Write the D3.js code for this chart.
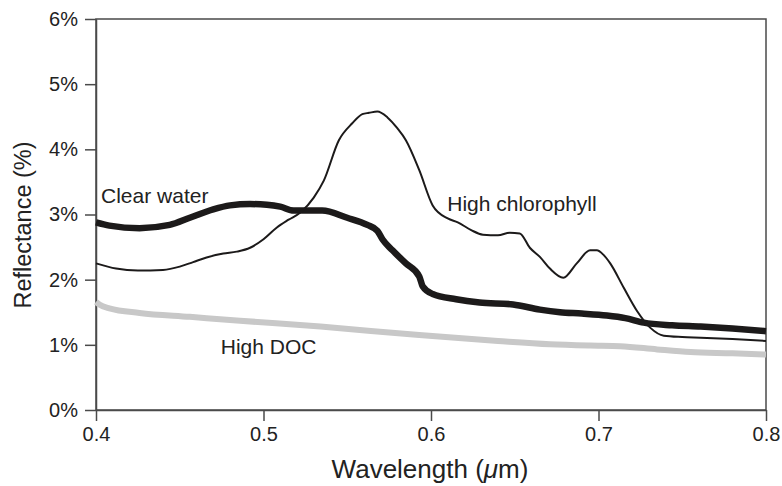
<!DOCTYPE html>
<html>
<head>
<meta charset="utf-8">
<script src="https://cdn.jsdelivr.net/npm/d3@7"></script>
<style>
  html, body { margin: 0; padding: 0; background: #fff; }
  svg { display: block; font-family: "Liberation Sans", Arial, Helvetica, sans-serif; }
</style>
</head>
<body>
<svg id="chart" width="782" height="486"></svg>
<script>
// ---- data (wavelength in µm, reflectance in %) ----
const clearWaterX = [0.400, 0.408, 0.426, 0.444, 0.456, 0.470, 0.480, 0.492, 0.502, 0.510, 0.518, 0.526, 0.535, 0.550, 0.562, 0.568, 0.571, 0.577, 0.585, 0.593, 0.595, 0.601, 0.615, 0.629, 0.649, 0.665, 0.677, 0.690, 0.705, 0.716, 0.727, 0.744, 0.761, 0.780, 0.800];
const clearWaterY = [2.88, 2.83, 2.79, 2.84, 2.95, 3.08, 3.14, 3.16, 3.15, 3.12, 3.06, 3.06, 3.06, 2.95, 2.84, 2.75, 2.62, 2.45, 2.25, 2.05, 1.90, 1.78, 1.70, 1.65, 1.62, 1.54, 1.50, 1.48, 1.45, 1.41, 1.34, 1.30, 1.28, 1.25, 1.21];

const chloroX = [0.400, 0.412, 0.425, 0.440, 0.450, 0.458, 0.466, 0.476, 0.484, 0.492, 0.500, 0.508, 0.515, 0.522, 0.530, 0.536, 0.545, 0.553, 0.559, 0.563, 0.568, 0.574, 0.580, 0.585, 0.593, 0.601, 0.610, 0.616, 0.624, 0.631, 0.640, 0.647, 0.653, 0.659, 0.665, 0.671, 0.679, 0.687, 0.695, 0.699, 0.703, 0.707, 0.715, 0.723, 0.731, 0.739, 0.750, 0.761, 0.780, 0.800];
const chloroY = [2.25, 2.17, 2.14, 2.15, 2.20, 2.27, 2.34, 2.40, 2.43, 2.49, 2.62, 2.80, 2.92, 3.03, 3.26, 3.52, 4.14, 4.40, 4.54, 4.56, 4.58, 4.49, 4.32, 4.14, 3.68, 3.14, 2.94, 2.88, 2.76, 2.69, 2.68, 2.72, 2.71, 2.49, 2.35, 2.17, 2.03, 2.25, 2.45, 2.45, 2.38, 2.25, 1.88, 1.52, 1.26, 1.14, 1.12, 1.11, 1.09, 1.06];

const docX = [0.400, 0.402, 0.408, 0.426, 0.456, 0.486, 0.534, 0.593, 0.640, 0.671, 0.695, 0.713, 0.735, 0.755, 0.780, 0.800];
const docY = [1.66, 1.62, 1.56, 1.49, 1.43, 1.37, 1.28, 1.15, 1.06, 1.01, 0.99, 0.98, 0.93, 0.89, 0.87, 0.85];

const xTicks = [0.4, 0.5, 0.6, 0.7, 0.8];
const xTickLabels = ["0.4", "0.5", "0.6", "0.7", "0.8"];
const yTicks = [0, 1, 2, 3, 4, 5, 6];
const yTickLabels = ["0%", "1%", "2%", "3%", "4%", "5%", "6%"];

const seriesLabels = ["Clear water", "High chlorophyll", "High DOC"];
const xTitle = "Wavelength (";
const yTitle = "Reflectance (%)";

// ---- layout ----
const svg = d3.select("#chart");
const L = 96, R = 766, T = 19, B = 410;
const x = d3.scaleLinear().domain([0.4, 0.8]).range([L, R]);
const y = d3.scaleLinear().domain([0, 6]).range([B, T]);
const axisColor = "#4a4a4a";

// frame
svg.append("rect")
  .attr("x", L).attr("y", T).attr("width", R - L).attr("height", B - T)
  .attr("fill", "none").attr("stroke", axisColor).attr("stroke-width", 1.5);

// axes
const xAxis = d3.axisBottom(x).tickValues(xTicks)
  .tickFormat((d, i) => xTickLabels[i]).tickSize(11).tickSizeOuter(0).tickPadding(6);
const gx = svg.append("g").attr("transform", `translate(0,${B})`).call(xAxis);
const yAxis = d3.axisLeft(y).tickValues(yTicks)
  .tickFormat((d, i) => yTickLabels[i]).tickSize(11).tickSizeOuter(0).tickPadding(7);
const gy = svg.append("g").attr("transform", `translate(${L},0)`).call(yAxis);
[gx, gy].forEach(g => {
  g.select(".domain").attr("stroke", axisColor).attr("stroke-width", 1.5);
  g.selectAll(".tick line").attr("stroke", axisColor).attr("stroke-width", 1.5);
  g.selectAll(".tick text").attr("fill", "#222").style("font-size", "20px")
    .style("font-family", '"Liberation Sans", Arial, sans-serif');
});

// lines
const line = d3.line().x(d => x(d[0])).y(d => y(d[1])).curve(d3.curveMonotoneX);
const zip = (a, b) => a.map((v, i) => [v, b[i]]);

svg.append("path").datum(zip(docX, docY))
  .attr("d", line).attr("fill", "none").attr("stroke", "#c8c8c8").attr("stroke-width", 6);
svg.append("path").datum(zip(clearWaterX, clearWaterY))
  .attr("d", line).attr("fill", "none").attr("stroke", "#1c1a1a").attr("stroke-width", 6.5)
  .attr("stroke-linejoin", "round");
svg.append("path").datum(zip(chloroX, chloroY))
  .attr("d", line).attr("fill", "none").attr("stroke", "#1c1a1a").attr("stroke-width", 2)
  .attr("stroke-linejoin", "round");

// series labels
const labelPos = [[0.403, 3.17], [0.6097, 3.05], [0.4745, 0.86]];
svg.selectAll(".slabel").data(seriesLabels).enter().append("text")
  .attr("class", "slabel")
  .attr("x", (d, i) => x(labelPos[i][0]))
  .attr("y", (d, i) => y(labelPos[i][1]))
  .attr("fill", "#222").style("font-size", "21px").text(d => d);

// axis titles
const xt = svg.append("text").attr("x", (L + R) / 2 - 1).attr("y", 478)
  .attr("text-anchor", "middle").attr("fill", "#222").style("font-size", "26px");
xt.append("tspan").text(xTitle);
xt.append("tspan").style("font-style", "italic").text("\u03bc");
xt.append("tspan").text("m)");

svg.append("text").attr("transform", `translate(31,225) rotate(-90)`)
  .attr("text-anchor", "middle").attr("fill", "#222").style("font-size", "23.5px").text(yTitle);
</script>
</body>
</html>
